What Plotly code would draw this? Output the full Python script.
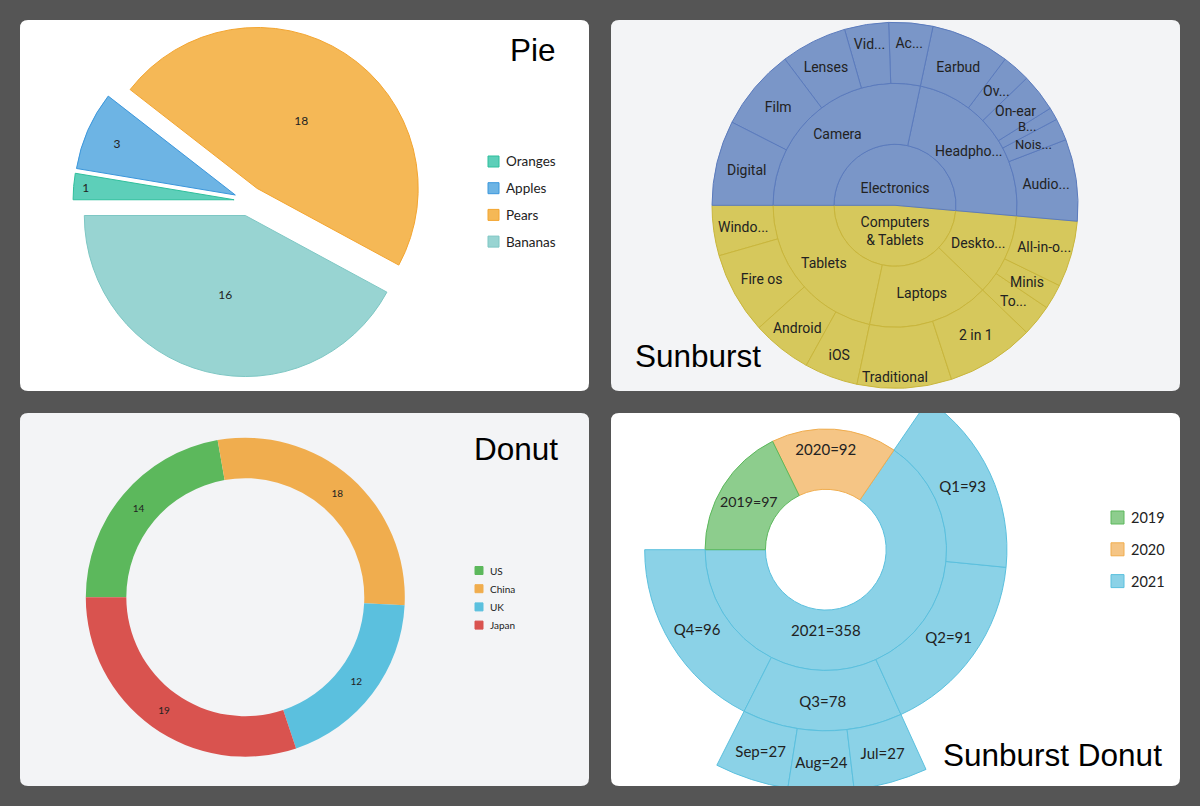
import math
import plotly.graph_objects as go

W, H = 1200, 806
BG = '#555555'

# ---------------- data ----------------
# Pie
pie_labels = ['Oranges', 'Apples', 'Pears', 'Bananas']
pie_values = [1, 3, 18, 16]
pie_fill = ['#5dcfb9', '#6db4e4', '#f5b856', '#98d4d2']
pie_line = ['#2fbf9c', '#3b97dc', '#f3a530', '#7ec7c4']

# Donut
donut_labels = ['US', 'China', 'UK', 'Japan']
donut_values = [14, 18, 12, 19]
donut_colors = ['#5cb85c', '#f0ad4e', '#5bc0de', '#d9534f']

# Sunburst (clockwise order from 9 o'clock)
sb_labels = ['Electronics', 'Camera', 'Digital', 'Film', 'Lenses', 'Video', 'Accessories',
             'Headphones', 'Earbud', 'Over-ear', 'On-ear', 'Bluetooth', 'Noise-cancelling',
             'Audio Accessories',
             'Computers & Tablets', 'Desktops', 'All-in-ones', 'Minis', 'Towers',
             'Laptops', '2 in 1', 'Traditional',
             'Tablets', 'iOS', 'Android', 'Fire os', 'Windows']
sb_parents = ['', 'Electronics', 'Camera', 'Camera', 'Camera', 'Camera', 'Camera',
              'Electronics', 'Headphones', 'Headphones', 'Headphones', 'Headphones', 'Headphones',
              'Headphones',
              '', 'Computers & Tablets', 'Desktops', 'Desktops', 'Desktops',
              'Computers & Tablets', 'Laptops', 'Laptops',
              'Computers & Tablets', 'Tablets', 'Tablets', 'Tablets', 'Tablets']
sb_leaf_values = [0, 0, 27, 26, 21, 14, 14,
                  0, 25, 9, 12, 4, 7, 26,
                  0, 0, 21, 8, 10,
                  0, 28, 30,
                  0, 17, 19, 26, 16]
sb_shown = ['Electronics', 'Camera', 'Digital', 'Film', 'Lenses', 'Vid...', 'Ac...',
            'Headpho...', 'Earbud', 'Ov...', 'On-ear', 'B...', 'Nois...', 'Audio...',
            'Computers<br>& Tablets', 'Deskto...', 'All-in-o...', 'Minis', 'To...',
            'Laptops', '2 in 1', 'Traditional',
            'Tablets', 'iOS', 'Android', 'Fire os', 'Windo...']
sb_cat_fill = {'Electronics': '#7a96c8', 'Computers & Tablets': '#d6c85c'}
sb_cat_line = {'Electronics': '#5b7bbd', 'Computers & Tablets': '#c9b63c'}
# labels that overflow their narrow sectors (drawn unshrunk like the original)
sb_overflow = ['Headphones', 'Over-ear', 'On-ear', 'Bluetooth', 'Noise-cancelling',
               'Desktops', 'Minis', 'Towers', 'Windows']
sb_label_nudge = {'Bluetooth': -3, 'Noise-cancelling': 2}   # px, vertical
sb_label_size = {'Bluetooth': 13, 'Noise-cancelling': 13}

# Sunburst donut (clockwise order from 9 o'clock)
sbd_labels = ['2019', '2020', '2021', 'Q1', 'Q2', 'Q3', 'Q4', 'Jul', 'Aug', 'Sep']
sbd_parents = ['', '', '', '2021', '2021', '2021', '2021', 'Q3', 'Q3', 'Q3']
sbd_values = [97, 92, 358, 93, 91, 78, 96, 27, 24, 27]
sbd_year_fill = {'2019': '#8dcd8d', '2020': '#f5c585', '2021': '#8bd2e7'}
sbd_year_line = {'2019': '#5cb85c', '2020': '#f0ad4e', '2021': '#5bc0de'}

# ---------------- helpers ----------------
def px(x):
    return x / W

def py(y):
    return 1 - y / H

def dom(cx, cy, half):
    return dict(x=[px(cx - half), px(cx + half)], y=[py(cy + half), py(cy - half)])

def rounded_rect(x0, y0, x1, y1, r):
    return " ".join([
        f"M{px(x0 + r)},{py(y0)}", f"L{px(x1 - r)},{py(y0)}",
        f"Q{px(x1)},{py(y0)} {px(x1)},{py(y0 + r)}", f"L{px(x1)},{py(y1 - r)}",
        f"Q{px(x1)},{py(y1)} {px(x1 - r)},{py(y1)}", f"L{px(x0 + r)},{py(y1)}",
        f"Q{px(x0)},{py(y1)} {px(x0)},{py(y1 - r)}", f"L{px(x0)},{py(y0 + r)}",
        f"Q{px(x0)},{py(y0)} {px(x0 + r)},{py(y0)}", "Z"])

rev = lambda a: list(reversed(a))
fig = go.Figure()
annotations = []
shapes = []

# ---------------- Pie ----------------
pull = 0.093
fig.add_trace(go.Pie(
    labels=pie_labels, values=pie_values, sort=False, direction='clockwise', rotation=270,
    pull=pull, textinfo='value', textposition='inside', insidetextorientation='horizontal',
    textfont=dict(family='Lato', size=12, color='#222222'),
    marker=dict(colors=pie_fill, line=dict(color=pie_line, width=1)),
    domain=dom(249, 201, 161 * (1 + pull)), showlegend=False, hoverinfo='label+value'))

# ---------------- Donut ----------------
fig.add_trace(go.Pie(
    labels=donut_labels, values=donut_values, sort=False, direction='clockwise', rotation=270,
    hole=0.746, textinfo='value', textposition='inside', insidetextorientation='horizontal',
    textfont=dict(family='Lato', size=10, color='#222222'),
    marker=dict(colors=donut_colors, line=dict(width=0)),
    domain=dom(245.3, 597.2, 159.5), showlegend=False, hoverinfo='label+value'))

# ---------------- Sunburst ----------------
def top_cat(lbl):
    while True:
        p = sb_parents[sb_labels.index(lbl)]
        if p == '':
            return lbl
        lbl = p

def depth(lbl):
    d = 0
    while sb_parents[sb_labels.index(lbl)] != '':
        lbl = sb_parents[sb_labels.index(lbl)]
        d += 1
    return d

sb_totals = list(sb_leaf_values)
for i in range(len(sb_labels)):
    v = sb_leaf_values[i]
    p = sb_parents[i]
    while p != '':
        j = sb_labels.index(p)
        sb_totals[j] += v
        p = sb_parents[j]

spans = {}
def assign(parent, a0, a1):
    kids = [l for l, p in zip(sb_labels, sb_parents) if p == parent]
    tot = sum(sb_totals[sb_labels.index(k)] for k in kids)
    a = a0
    for k in kids:
        b = a + (a1 - a0) * sb_totals[sb_labels.index(k)] / tot
        spans[k] = (a, b)
        assign(k, a, b)
        a = b
assign('', 0.0, 1.0)

sb_fill = [sb_cat_fill[top_cat(l)] for l in sb_labels]
sb_line = [sb_cat_line[top_cat(l)] for l in sb_labels]
sb_trace_text = ['' if l in sb_overflow else t for l, t in zip(sb_labels, sb_shown)]

SB_CX, SB_CY, SB_R = 895, 205.3, 183
fig.add_trace(go.Sunburst(
    ids=rev(sb_labels), labels=rev(sb_labels), parents=rev(sb_parents), values=rev(sb_totals),
    text=rev(sb_trace_text), texttemplate='%{text}', branchvalues='total', sort=False, rotation=180,
    insidetextorientation='horizontal', leaf=dict(opacity=1),
    textfont=dict(family='Roboto', size=14, color='#222222'),
    marker=dict(colors=rev(sb_fill), line=dict(color=rev(sb_line), width=1)),
    domain=dom(SB_CX, SB_CY, SB_R), hoverinfo='label+value'))

ring = SB_R / 3
for l, t in zip(sb_labels, sb_shown):
    if l not in sb_overflow:
        continue
    a0, a1 = spans[l]
    th = math.pi - 2 * math.pi * (a0 + a1) / 2
    r = (depth(l) + 0.5) * ring
    annotations.append(dict(text=t, xref='paper', yref='paper',
                            x=px(SB_CX + r * math.cos(th)),
                            y=py(SB_CY - r * math.sin(th) + sb_label_nudge.get(l, 0)),
                            xanchor='center', yanchor='middle', showarrow=False, borderpad=0,
                            font=dict(family='Roboto', size=sb_label_size.get(l, 14), color='#222222')))

# ---------------- Sunburst Donut ----------------
def year_of(lbl):
    while True:
        p = sbd_parents[sbd_labels.index(lbl)]
        if p == '':
            return lbl
        lbl = p

d_ids = ['root'] + sbd_labels
d_labels = [''] + sbd_labels
d_parents = [''] + [p if p else 'root' for p in sbd_parents]
d_values = [sum(v for v, p in zip(sbd_values, sbd_parents) if p == '')] + sbd_values
d_text = [''] + [f'{l}={v}' for l, v in zip(sbd_labels, sbd_values)]
d_fill = ['rgba(255,255,255,0)'] + [sbd_year_fill[year_of(l)] for l in sbd_labels]
d_line = ['rgba(255,255,255,0)'] + [sbd_year_line[year_of(l)] for l in sbd_labels]

fig.add_trace(go.Sunburst(
    ids=d_ids[:1] + rev(d_ids[1:]), labels=d_labels[:1] + rev(d_labels[1:]),
    parents=d_parents[:1] + rev(d_parents[1:]), values=d_values[:1] + rev(d_values[1:]),
    text=d_text[:1] + rev(d_text[1:]), texttemplate='%{text}', branchvalues='total',
    sort=False, rotation=180, insidetextorientation='horizontal', leaf=dict(opacity=1),
    textfont=dict(family='Lato', size=15, color='#222222'),
    marker=dict(colors=d_fill[:1] + rev(d_fill[1:]), line=dict(color=d_line[:1] + rev(d_line[1:]), width=1)),
    domain=dom(825.8, 549.7, 241.5), hoverinfo='label+value'))

# ---------------- cards, masks, legends, titles ----------------
cards = [((20, 20, 589, 391), '#ffffff'), ((611, 20, 1180, 391), '#f3f4f6'),
         ((20, 413, 589, 786), '#f3f4f6'), ((611, 413, 1180, 786), '#ffffff')]
for (x0, y0, x1, y1), c in cards:
    shapes.append(dict(type='path', xref='paper', yref='paper', path=rounded_rect(x0, y0, x1, y1, 8),
                       fillcolor=c, line=dict(width=0), layer='below'))
for (x0, y0, x1, y1) in [(0, 391, 1200, 413), (0, 786, 1200, 806), (1180, 0, 1200, 806), (589, 0, 611, 806)]:
    shapes.append(dict(type='rect', xref='paper', yref='paper', x0=px(x0), x1=px(x1), y0=py(y1), y1=py(y0),
                       fillcolor=BG, line=dict(width=0), layer='above'))

def legend(labels, fills, lines, x, y0, step, size, fs):
    for i, (lab, f, l) in enumerate(zip(labels, fills, lines)):
        yc = y0 + i * step
        shapes.append(dict(type='rect', xref='paper', yref='paper',
                           x0=px(x), x1=px(x + size), y0=py(yc + size / 2), y1=py(yc - size / 2),
                           fillcolor=f, line=dict(color=l, width=1), layer='above'))
        annotations.append(dict(text=lab, xref='paper', yref='paper', x=px(x + size + 4.5), y=py(yc),
                                xanchor='left', yanchor='middle', showarrow=False,
                                font=dict(family='Lato', size=fs, color='#222222')))

legend(pie_labels, pie_fill, pie_line, 488, 161.5, 26.7, 11, 13.5)
legend(donut_labels, donut_colors, donut_colors, 475, 570.5, 18.2, 8, 10)
legend(['2019', '2020', '2021'], [sbd_year_fill[k] for k in ['2019', '2020', '2021']],
       [sbd_year_line[k] for k in ['2019', '2020', '2021']], 1111, 517.5, 31.8, 13, 14.5)

def title(text, x, y, anchor):
    annotations.append(dict(text=text, xref='paper', yref='paper', x=px(x), y=py(y),
                            xanchor=anchor, yanchor='middle', showarrow=False,
                            font=dict(family='Liberation Sans, Arial', size=31.5, color='#000000')))

title('Pie', 558, 50.3, 'right')
title('Sunburst', 633, 356.3, 'left')
title('Donut', 560, 448.6, 'right')
title('Sunburst Donut', 1164, 755, 'right')

fig.update_layout(
    width=W, height=H, margin=dict(l=0, r=0, t=0, b=0),
    paper_bgcolor=BG, plot_bgcolor=BG, showlegend=False,
    shapes=shapes, annotations=annotations,
    font=dict(family='Lato'))

fig.write_html('out.html')
